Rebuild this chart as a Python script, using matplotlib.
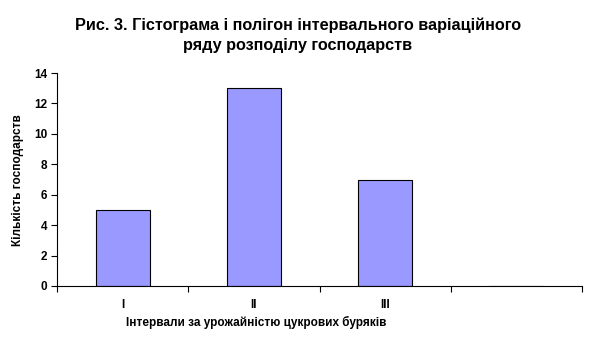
import numpy as np
import matplotlib.pyplot as plt

plt.rcParams['font.family'] = ['Liberation Sans', 'DejaVu Sans']

categories = ['I', 'II', 'III', '']
counts = [5, 13, 7, 0]
y_ticks = [0, 2, 4, 6, 8, 10, 12, 14]

title = 'Рис. 3. Гістограма і полігон інтервального варіаційного\nряду розподілу господарств'
x_label = 'Інтервали за урожайністю цукрових буряків'
y_label = 'Кількість господарств'

fig = plt.figure(figsize=(5.98, 3.51), dpi=100)
ax = fig.add_axes([57 / 598, 1 - 286 / 351, 525 / 598, 213 / 351])

x = np.arange(len(categories))
ax.bar(x, counts, width=0.41, color='#9999ff', edgecolor='black', linewidth=0.8)

ax.set_xlim(-0.5, len(categories) - 0.5)
ax.set_ylim(0, 14)
ax.set_yticks(y_ticks)
ax.set_yticklabels([str(v) for v in y_ticks], fontsize=8.5, fontweight='bold')

# ticks between categories, labels at centres
ax.set_xticks(np.arange(len(categories) + 1) - 0.5)
ax.set_xticklabels([])
ax.set_xticks(x, minor=True)
ax.set_xticklabels(categories, minor=True, fontsize=8.5, fontweight='bold')
ax.tick_params(axis='x', which='minor', length=0, pad=9)
ax.tick_params(axis='x', which='major', length=4, width=0.8, direction='out')
ax.tick_params(axis='y', length=4, width=0.8, direction='out', pad=3)

for s in ['top', 'right']:
    ax.spines[s].set_visible(False)
for s in ['left', 'bottom']:
    ax.spines[s].set_linewidth(0.8)

fig.text(256 / 598, 1 - 322 / 351, x_label, ha='center', va='center',
         fontsize=8.5, fontweight='bold')
fig.text(18 / 598, 1 - 180 / 351, y_label, ha='center', va='center',
         rotation=90, fontsize=8.5, fontweight='bold')
fig.text(298 / 598, 1 - 35 / 351, title, ha='center', va='center',
         fontsize=11.7, fontweight='bold', linespacing=1.45)

fig.savefig('out.png', dpi=100, facecolor='white')
